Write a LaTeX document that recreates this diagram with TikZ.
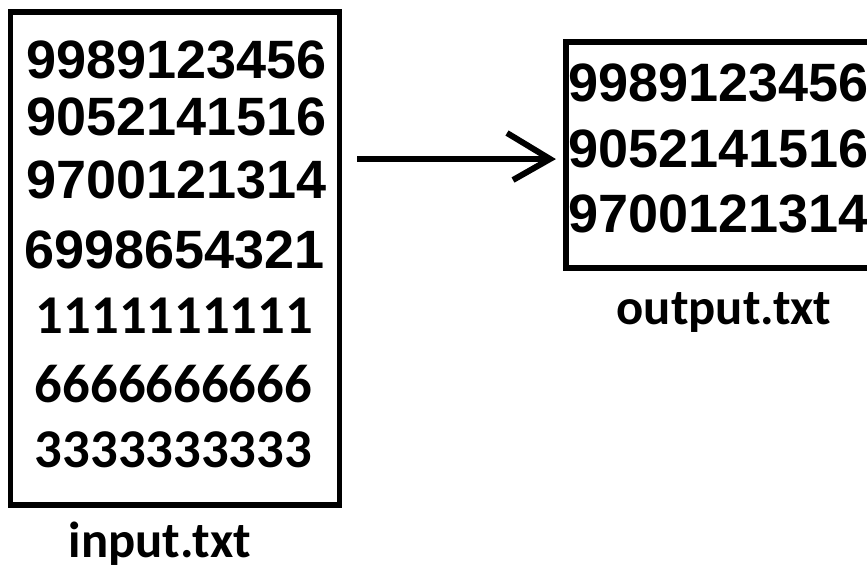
\documentclass[tikz,border=0pt]{standalone}
\usepackage{fontspec}
\setmainfont{Liberation Sans}
\newfontfamily\calfont{Carlito}
\begin{document}
\begin{tikzpicture}[x=0.75pt,y=-0.75pt,
  filebox/.style={draw, line width=3.8pt, inner sep=0pt, fill=none},
  arialrow/.style={font=\fontsize{40.5}{40.5}\selectfont\bfseries, anchor=base, inner sep=0pt},
  calrow/.style={font=\calfont\fontsize{41}{41}\selectfont\bfseries, anchor=base, inner sep=0pt},
  lbl/.style={font=\calfont\fontsize{38}{38}\selectfont\bfseries, anchor=base, inner sep=0pt},
  conn/.style={line width=4.5pt}]
\useasboundingbox (0,0) rectangle (867,567);
\clip (0,0) rectangle (867,567);
\fill[white] (0,0) rectangle (867,567);
% boxes
\node[filebox, minimum width=246.75pt, minimum height=369.75pt] (inbox) at (175,258.5) {};
\node[filebox, minimum width=235.5pt, minimum height=169.5pt] (outbox) at (723,155) {};
% input rows
\node[arialrow] (i1) at (176.5,79) {9989123456};
\node[arialrow] (i2) at (176.5,135) {9052141516};
\node[arialrow] (i3) at (176.5,198) {9700121314};
\node[arialrow] (i4) at (174.5,268) {6998654321};
\node[calrow] (i5) at (174.5,333) {1111111111};
\node[calrow] (i6) at (173.5,402) {6666666666};
\node[calrow] (i7) at (173.5,467) {3333333333};
% output rows
\node[arialrow] (o1) at (718.5,102) {9989123456};
\node[arialrow] (o2) at (718.5,167) {9052141516};
\node[arialrow] (o3) at (718.5,232) {9700121314};
% labels
\node[lbl] (inlbl) at (160,557) {input.txt};
\node[lbl] (outlbl) at (724,324) {output.txt};
% arrow
\coordinate (a0) at (357,159);
\coordinate (a1) at (550,159);
\draw[conn] (a0) -- (a1);
\draw[conn, line join=miter] (a1) ++(-43,-26) -- (a1) -- ++(-37,21);
\end{tikzpicture}
\end{document}
